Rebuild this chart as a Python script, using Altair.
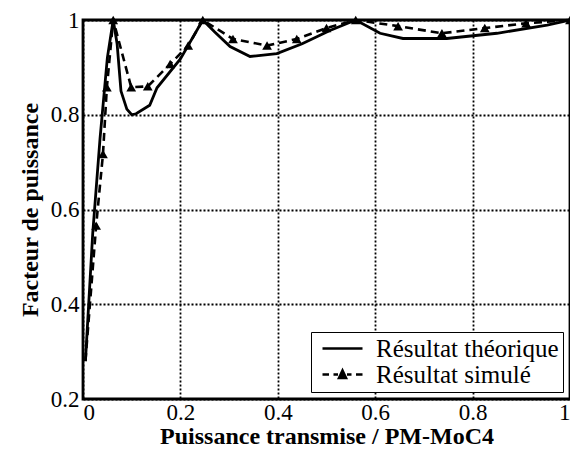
import altair as alt
import pandas as pd

theo_x = [0.005, 0.02, 0.035, 0.05, 0.062, 0.07, 0.078, 0.09, 0.1, 0.109, 0.137, 0.152, 0.2, 0.246,
          0.27, 0.302, 0.343, 0.398, 0.45, 0.507, 0.56, 0.61, 0.657, 0.747, 0.85, 0.953, 1.0]
theo_y = [0.28, 0.55, 0.75, 0.92, 1.0, 0.95, 0.85, 0.812, 0.80, 0.802, 0.82, 0.857, 0.918, 1.0,
          0.975, 0.944, 0.923, 0.929, 0.95, 0.978, 1.0, 0.972, 0.961, 0.961, 0.972, 0.989, 1.0]

sim_x = [0.005, 0.027, 0.041, 0.049, 0.062, 0.099, 0.133, 0.179, 0.216, 0.246, 0.308, 0.378,
         0.439, 0.50, 0.56, 0.647, 0.737, 0.825, 0.91, 1.0]
sim_y = [0.28, 0.566, 0.717, 0.858, 1.0, 0.858, 0.86, 0.907, 0.946, 1.0, 0.96, 0.946,
         0.96, 0.983, 1.0, 0.987, 0.972, 0.983, 0.993, 1.0]
sim_marker = [False] + [True] * (len(sim_x) - 1)

series = ["Résultat théorique", "Résultat simulé"]
x_ticks = [0, 0.2, 0.4, 0.6, 0.8, 1]
y_ticks = [0.2, 0.4, 0.6, 0.8, 1]

theo = pd.DataFrame({"x": theo_x, "y": theo_y, "s": series[0], "order": range(len(theo_x))})
sim = pd.DataFrame({"x": sim_x, "y": sim_y, "s": series[1], "order": range(len(sim_x)), "m": sim_marker})
both = pd.concat([theo, sim], ignore_index=True)

FONT = "Liberation Serif"

axis_common = dict(
    format="~g", grid=True, gridColor="black", gridDash=[2, 2], gridWidth=1.8, gridOpacity=1,
    domain=False, ticks=False, labelFont=FONT, labelFontSize=23, labelColor="black",
    titleFont=FONT, titleFontSize=24, titleFontWeight="bold", titleColor="black",
)

xs = alt.Scale(domain=[0, 1], nice=False)
ys = alt.Scale(domain=[0.2, 1], nice=False)
xenc = alt.X("x:Q", scale=xs, axis=alt.Axis(values=x_ticks, title="Puissance transmise / PM-MoC4",
                                            labelPadding=2, titlePadding=0, **axis_common))
yenc = alt.Y("y:Q", scale=ys, axis=alt.Axis(values=y_ticks, title="Facteur de puissance",
                                            labelPadding=4, titlePadding=8, **axis_common))

line_path = "M-1,0L7,0"
sim_path = ("M-1,0L0.3,0M1.2,0L2.1,0M3.9,0L4.8,0M5.7,0L7,0"
            "M2.3,0.7L3,-0.8L3.7,0.7Z"
            "M2.5,0.5L3.5,0.5M2.7,0.1L3.3,0.1M2.85,-0.3L3.15,-0.3")

line_theo = alt.Chart(theo).mark_line(color="black", strokeWidth=2.8).encode(
    x=xenc, y=yenc, order="order:Q")
line_sim = alt.Chart(sim).mark_line(color="black", strokeWidth=2.6, strokeDash=[8, 5]).encode(
    x="x:Q", y="y:Q", order="order:Q")

pts = alt.Chart(sim[sim["m"]]).mark_point(shape="triangle-up", filled=True, color="black",
                                          size=95, opacity=1).encode(x="x:Q", y="y:Q")

legend_layer = alt.Chart(both).transform_filter("false").mark_point(
    filled=False, color="black", strokeWidth=2.6).encode(
    x="x:Q", y="y:Q",
    shape=alt.Shape("s:N", scale=alt.Scale(domain=series, range=[line_path, sim_path]),
                    legend=alt.Legend(title=None, orient="bottom-right", offset=7,
                                      symbolSize=100, labelFont=FONT, labelFontSize=25,
                                      labelColor="black", labelOffset=36,
                                      symbolStrokeColor="black", symbolStrokeWidth=2.6,
                                      symbolOpacity=1, strokeColor="black", fillColor="white",
                                      padding=4, rowPadding=0, labelLimit=300)),
)

chart = alt.layer(line_theo, line_sim, pts, legend_layer).properties(
    width=487, height=379,
    autosize=alt.AutoSizeParams(type="none"),
    padding={"left": 75, "top": 12, "right": 0, "bottom": 50},
).configure_view(stroke="black", strokeWidth=2.8).configure_legend(
    labelFont=FONT, labelFontSize=25, labelColor="black")

chart.save("out.html", embed_options={"renderer": "svg", "actions": False})
